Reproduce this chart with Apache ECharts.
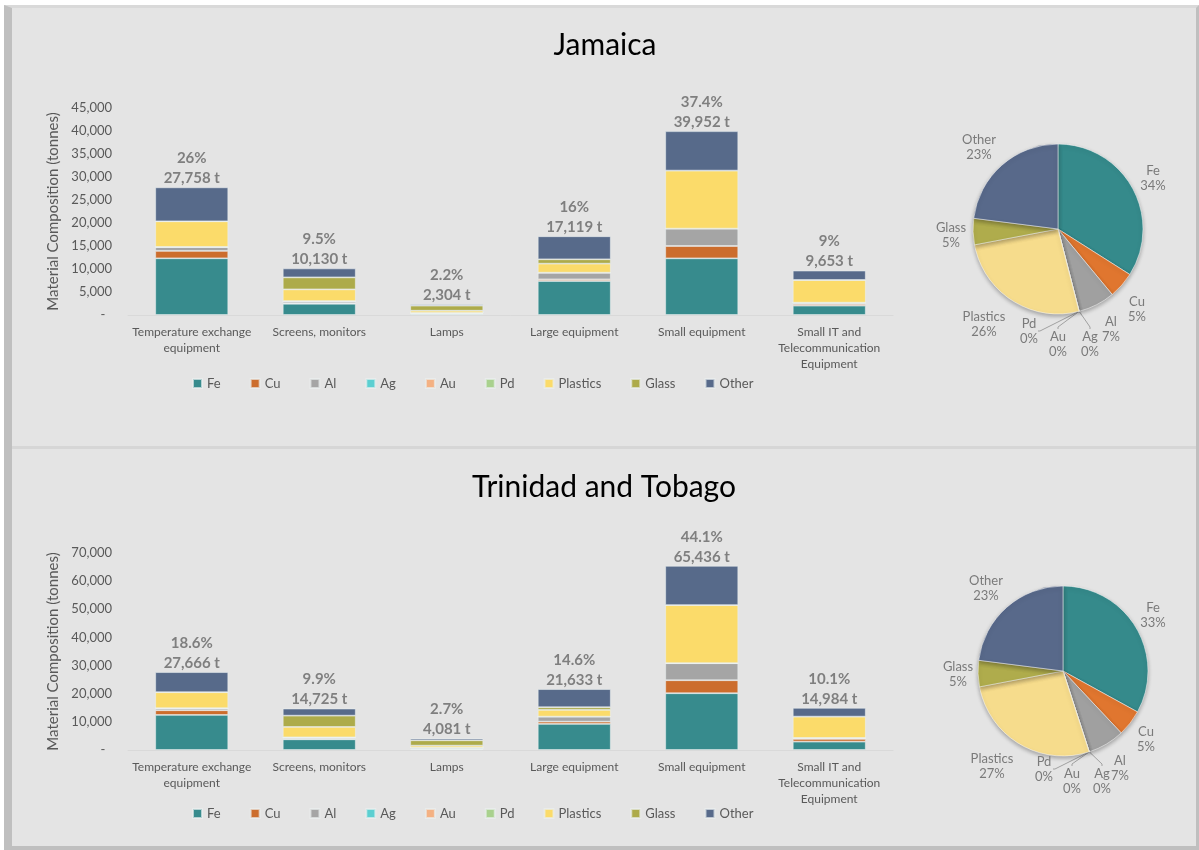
<!DOCTYPE html>
<html>
<head>
<meta charset="utf-8">
<script src="https://cdn.jsdelivr.net/npm/echarts@6/dist/echarts.min.js"></script>
<style>
  body { margin: 0; background: #fff; }
  #frame { position: absolute; left: 4px; top: 5px; width: 1184px; height: 838px; background: #e4e4e4;
    border-top: 3px solid #d9d9d9; border-left: 8px solid #bfbfbf; border-right: 3px solid #bfbfbf; border-bottom: 4px solid #bfbfbf; }
  #divider { position: absolute; left: 12px; top: 446px; width: 1184px; height: 3px; background: #d6d6d6; }
  #main { position: absolute; left: 0; top: 0; width: 1199px; height: 850px; }
</style>
</head>
<body>
<div id="frame"></div>
<div id="divider"></div>
<div id="main"></div>
<script>
  // categories and materials
  var categories = ['Temperature exchange\nequipment', 'Screens, monitors', 'Lamps', 'Large equipment', 'Small equipment', 'Small IT and\nTelecommunication\nEquipment']
  var materials = ['Fe', 'Cu', 'Al', 'Ag', 'Au', 'Pd', 'Plastics', 'Glass', 'Other']
  var colors = ['#378b8d', '#cc6d2d', '#a5a5a5', '#5bcfd1', '#f4b183', '#a9d18e', '#fbdb6a', '#adab4a', '#576a8a']
  var pieColors = ['#358a8b', '#e0762f', '#a0a0a0', '#5bcfd1', '#f4b183', '#a9d18e', '#f6dc8c', '#afac4c', '#58698a']

  // Jamaica (tonnes)
  var jmFe = [12330, 2450, 250, 7390, 12320, 2030]
  var jmCu = [1590, 150, 30, 360, 2680, 360]
  var jmAl = [870, 430, 200, 1450, 3770, 290]
  var jmAg = [3, 1, 0, 1, 8, 2]
  var jmAu = [1, 0, 0, 0, 2, 1]
  var jmPd = [1, 0, 0, 0, 2, 1]
  var jmPlastics = [5580, 2540, 450, 1960, 12610, 4930]
  var jmGlass = [0, 2610, 1100, 950, 0, 0]
  var jmOther = [7380, 1950, 270, 5010, 8560, 2040]
  var jmTotals = [27758, 10130, 2304, 17119, 39952, 9653]
  var jmShare = [26, 9.5, 2.2, 16, 37.4, 9]
  var jmPie = [34, 5, 7, 0.02, 0.005, 0.005, 26, 5, 23]

  // Trinidad and Tobago (tonnes)
  var ttFe = [12460, 3800, 300, 9250, 20170, 2970]
  var ttCu = [1670, 200, 50, 830, 4620, 950]
  var ttAl = [710, 500, 500, 1780, 6050, 350]
  var ttAg = [4, 2, 0, 2, 14, 3]
  var ttAu = [1, 1, 0, 1, 3, 1]
  var ttPd = [1, 1, 0, 1, 3, 1]
  var ttPlastics = [5690, 3680, 700, 2370, 20640, 7590]
  var ttGlass = [0, 4020, 1900, 950, 0, 0]
  var ttOther = [7130, 2520, 630, 6450, 13940, 3120]
  var ttTotals = [27666, 14725, 4081, 21633, 65436, 14984]
  var ttShare = [18.6, 9.9, 2.7, 14.6, 44.1, 10.1]
  var ttPie = [33, 5, 7, 0.02, 0.005, 0.005, 27, 5, 23]

  var jmData = [jmFe, jmCu, jmAl, jmAg, jmAu, jmPd, jmPlastics, jmGlass, jmOther]
  var ttData = [ttFe, ttCu, ttAl, ttAg, ttAu, ttPd, ttPlastics, ttGlass, ttOther]

  var FONT = 'Lato, "Open Sans", sans-serif'
  var grey = '#595959'

  // pie label placement (offset from pie centre), Excel "best fit" style
  var pieCenters = [[1058, 229], [1063, 671]]
  var pieLabelOffsets = [
    [[95, -51], [79, 80], [53, 100], [32, 115], [0, 115], [-29, 102], [-74, 95], [-107, 6], [-79, -82]],
    [[90, -56], [83, 68], [57, 97], [39, 110], [9, 110], [-19, 98], [-71, 95], [-105, 3], [-77, -83]]
  ]

  function barSeries (data, idx, totals, share) {
    return materials.map(function (m, i) {
      var s = {
        name: m,
        type: 'bar',
        stack: 'g' + idx,
        xAxisIndex: idx,
        yAxisIndex: idx,
        barWidth: 73,
        itemStyle: { color: colors[i], borderColor: 'rgba(235,240,240,0.7)', borderWidth: 0.8 },
        data: data[i]
      }
      if (m === 'Other') {
        s.label = {
          show: true,
          position: 'top',
          distance: 1,
          offset: [0, 2],
          fontFamily: FONT,
          fontWeight: 'bold',
          fontSize: 15,
          lineHeight: 20,
          color: '#7f7f7f',
          formatter: function (p) {
            return share[p.dataIndex] + '%\n' + totals[p.dataIndex].toLocaleString('en-US') + ' t'
          }
        }
      }
      return s
    })
  }

  function pieSeries (vals, k) {
    return {
      type: 'pie',
      radius: 85,
      center: pieCenters[k],
      startAngle: 90,
      clockwise: true,
      animation: false,
      itemStyle: { borderColor: 'rgba(255,255,255,0.5)', borderWidth: 1, shadowBlur: 4, shadowOffsetY: 2, shadowColor: 'rgba(0,0,0,0.3)' },
      label: {
        position: 'outside',
        fontFamily: FONT,
        fontSize: 13,
        lineHeight: 15,
        color: '#7a7a7a',
        align: 'center',
        formatter: function (p) { return p.name + '\n' + Math.round(p.value) + '%' }
      },
      labelLine: { show: false, length: 4, length2: 2 },
      labelLayout: function (p) {
        var off = pieLabelOffsets[k][p.dataIndex]
        return {
          x: pieCenters[k][0] + off[0],
          y: pieCenters[k][1] + off[1],
          align: 'center',
          verticalAlign: 'middle'
        }
      },
      data: materials.map(function (m, i) {
        var d = { name: m, value: vals[i], itemStyle: { color: pieColors[i] } }
        if (i >= 3 && i <= 5) d.labelLine = { show: true, lineStyle: { color: '#a0a0a0', width: 1 } }
        return d
      })
    }
  }

  function yAxis (idx, max, interval) {
    return {
      type: 'value',
      gridIndex: idx,
      min: 0,
      max: max,
      interval: interval,
      name: 'Material Composition (tonnes)',
      nameLocation: 'middle',
      nameGap: 62,
      nameTextStyle: { fontFamily: FONT, fontSize: 15, color: grey },
      axisLine: { show: false },
      axisTick: { show: false },
      splitLine: { show: false },
      axisLabel: {
        fontFamily: FONT, fontSize: 13, color: grey, margin: 16,
        formatter: function (v) { return v === 0 ? '-  ' : v.toLocaleString('en-US') }
      }
    }
  }

  function xAxis (idx) {
    return {
      type: 'category',
      gridIndex: idx,
      data: categories,
      axisLine: { lineStyle: { color: '#d9d9d9' } },
      axisTick: { show: false },
      axisLabel: { fontFamily: FONT, fontSize: 12, color: grey, lineHeight: 16, margin: 9, interval: 0 }
    }
  }

  function legend (top) {
    return {
      data: materials,
      left: 187,
      top: top,
      itemWidth: 9,
      itemHeight: 9,
      itemGap: 29,
      icon: 'rect',
      selectedMode: false,
      textStyle: { fontFamily: FONT, fontSize: 13, color: grey }
    }
  }

  var chart = echarts.init(document.getElementById('main'))
  chart.setOption({
    backgroundColor: 'transparent',
    animation: false,
    title: [
      { text: 'Jamaica', left: 600, top: 25, textAlign: 'center', textStyle: { fontFamily: FONT, fontSize: 30, fontWeight: 'normal', color: '#000' } },
      { text: 'Trinidad and Tobago', left: 599, top: 467, textAlign: 'center', textStyle: { fontFamily: FONT, fontSize: 30, fontWeight: 'normal', color: '#000' } }
    ],
    legend: [legend(372), legend(802)],
    grid: [
      { left: 128, right: 306, top: 108, height: 207 },
      { left: 128, right: 306, top: 553, height: 197 }
    ],
    xAxis: [xAxis(0), xAxis(1)],
    yAxis: [yAxis(0, 45000, 5000), yAxis(1, 70000, 10000)],
    series: barSeries(jmData, 0, jmTotals, jmShare)
      .concat(barSeries(ttData, 1, ttTotals, ttShare))
      .concat([pieSeries(jmPie, 0), pieSeries(ttPie, 1)])
  })
</script>
</body>
</html>
